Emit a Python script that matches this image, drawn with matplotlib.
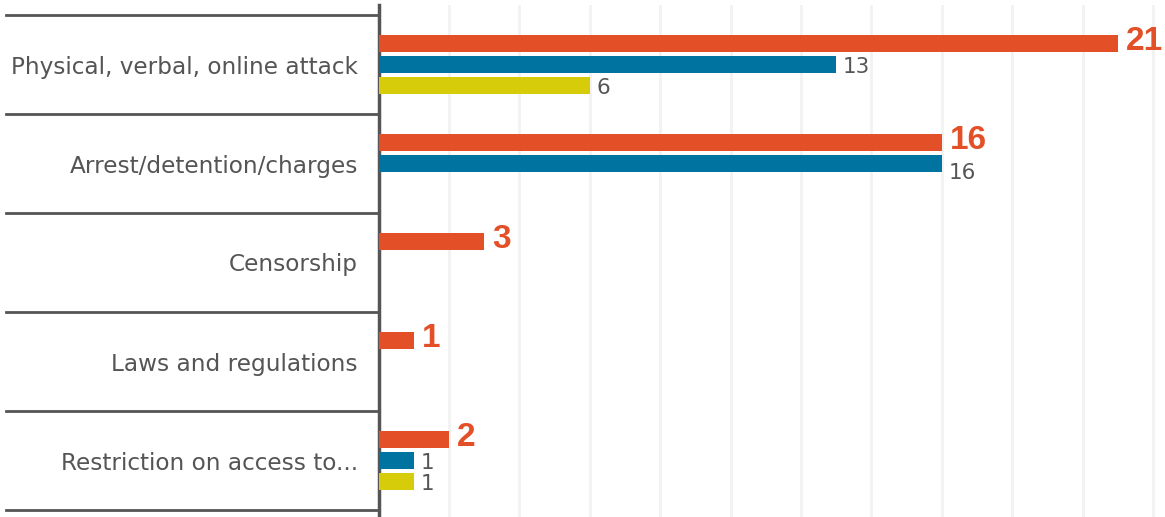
import matplotlib.pyplot as plt
import matplotlib.transforms as mtransforms
import numpy as np

categories = [
    "Physical, verbal, online attack",
    "Arrest/detention/charges",
    "Censorship",
    "Laws and regulations",
    "Restriction on access to...",
]
orange_vals = [21, 16, 3, 1, 2]
blue_vals = [13, 16, 0, 0, 1]
yellow_vals = [6, 0, 0, 0, 1]

ORANGE = "#E34F26"
BLUE = "#0073A0"
YELLOW = "#D7CC0A"
DARK = "#555555"

W, H = 1165, 517
fig = plt.figure(figsize=(W / 100, H / 100), dpi=100)
ax = fig.add_axes([378.6 / W, 0, 1 - 378.6 / W, 1 - 5 / H])

n = len(categories)
y = np.arange(n)
offset = 0.212
height = 0.175

# orange (highlighted) series: bold value labels
ax.barh(y - offset, orange_vals, height=height, color=ORANGE, zorder=3)
for yi, v in zip(y, orange_vals):
    if v > 0:
        ax.annotate(str(v), (v, yi - offset - 0.025), xytext=(6, 0), textcoords="offset points",
                    ha="left", va="center", fontsize=24, fontweight="bold",
                    family="Liberation Sans", color=ORANGE, zorder=4)

# other series: small grey value labels
for vals, color, off in [(blue_vals, BLUE, 0.0), (yellow_vals, YELLOW, offset)]:
    ax.barh(y + off, vals, height=height, color=color, zorder=3)
    for yi, v, ov in zip(y, vals, orange_vals):
        if v <= 0:
            continue
        nudge = 0.1 if (off == 0.0 and v == ov) else 0.03
        ax.annotate(str(v), (v, yi + off + nudge), xytext=(5, 0), textcoords="offset points",
                    ha="left", va="center", fontsize=15.5, color=DARK, zorder=4)

ax.set_xlim(0, (W - 378.6) / 35.2)
ax.set_ylim(n - 0.5 + 7 / 99, -0.5 - 10 / 99)

ax.set_xticks(np.arange(2, 23, 2))
ax.grid(axis="x", color="#f2f2f2", linewidth=2, zorder=0)
ax.tick_params(axis="x", length=0, labelbottom=False)

ax.set_yticks(y)
ax.set_yticklabels(categories, fontsize=16.7, color=DARK)
ax.tick_params(axis="y", length=0, pad=15)

for side in ["top", "right", "bottom"]:
    ax.spines[side].set_visible(False)
ax.spines["left"].set_color(DARK)
ax.spines["left"].set_linewidth(2.5)

# category separators, extending left of the axis
trans = mtransforms.blended_transform_factory(ax.transAxes, ax.transData)
left_x = -(378.6 - 6) / (W - 378.6)
for b in np.arange(n + 1) - 0.5:
    ax.plot([left_x, 0], [b, b], transform=trans, color=DARK, linewidth=2, clip_on=False)

fig.savefig("out.png", dpi=100)
